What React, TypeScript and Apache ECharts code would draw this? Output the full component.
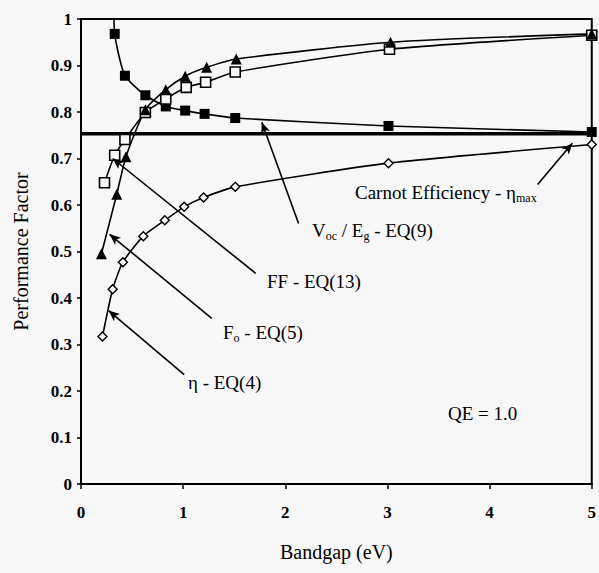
import React, { useEffect, useRef } from "react";
import * as echarts from "echarts";

// Voc / Eg  (filled squares)
const bandgapVoc = [0.32, 0.33, 0.43, 0.63, 0.83, 1.02, 1.21, 1.51, 3.01, 5.0];
const vocEg = [1.06, 0.968, 0.878, 0.836, 0.812, 0.803, 0.796, 0.787, 0.77, 0.757];
// FF (open squares)
const bandgapFF = [0.23, 0.33, 0.43, 0.63, 0.83, 1.03, 1.22, 1.51, 3.02, 5.0];
const fillFactor = [0.648, 0.707, 0.741, 0.799, 0.828, 0.853, 0.864, 0.886, 0.935, 0.965];
// Fo (filled triangles)
const bandgapFo = [0.2, 0.35, 0.44, 0.63, 0.83, 1.02, 1.23, 1.52, 3.03, 5.0];
const foValues = [0.495, 0.623, 0.704, 0.805, 0.848, 0.877, 0.896, 0.914, 0.95, 0.968];
// eta (open diamonds)
const bandgapEta = [0.21, 0.31, 0.41, 0.61, 0.82, 1.01, 1.2, 1.51, 3.01, 5.0];
const etaValues = [0.317, 0.419, 0.477, 0.533, 0.567, 0.596, 0.616, 0.639, 0.69, 0.73];
// Carnot efficiency
const carnotX = [0, 5];
const carnotValue = 0.753;

// annotation arrows: [fromX, fromY, toX, toY] in data units
const arrowCarnot = [4.47, 0.644, 4.81, 0.733];
const arrowVoc = [2.13, 0.56, 1.77, 0.778];
const arrowFF = [1.71, 0.453, 0.31, 0.7];
const arrowFo = [1.28, 0.356, 0.28, 0.537];
const arrowEta = [1.01, 0.235, 0.27, 0.373];

const FONT = "'Liberation Serif', 'DejaVu Serif', serif";
const BG = "#f7f7f7";

function zip(xs: number[], ys: number[]) {
  return xs.map((x, i) => [x, ys[i]]);
}

function arrow(a: number[]) {
  return [{ coord: [a[0], a[1]] }, { coord: [a[2], a[3]] }];
}

export default function App() {
  const ref = useRef<HTMLDivElement>(null);
  useEffect(() => {
    document.body.style.background = BG;
    const chart = echarts.init(ref.current!, null, { renderer: "svg" });
    const lineBase = {
      type: "line" as const,
      smooth: 0.2,
      lineStyle: { color: "#000", width: 1.6 },
      z: 3,
    };
    const sub = { fontFamily: FONT, fontSize: 12, padding: [11, 0, 0, 0], fill: "#000" };
    const textStyle = (text: string) => ({
      text,
      fontFamily: FONT,
      fontSize: 19,
      fill: "#000",
      verticalAlign: "middle",
      rich: { sub },
    });
    chart.setOption({
      animation: false,
      backgroundColor: BG,
      textStyle: { fontFamily: FONT },
      grid: {
        left: 81,
        right: 3,
        top: 19,
        bottom: 89,
        show: true,
        borderColor: "#000",
        borderWidth: 2,
        containLabel: false,
      },
      xAxis: {
        type: "value",
        min: 0,
        max: 5,
        interval: 1,
        name: "Bandgap (eV)",
        nameLocation: "middle",
        nameGap: 58,
        nameTextStyle: { fontFamily: FONT, fontSize: 20, color: "#000" },
        axisLine: { show: true, onZero: false, lineStyle: { color: "#000", width: 2 } },
        axisTick: { show: true, length: 5, lineStyle: { color: "#000", width: 1.5 } },
        axisLabel: { fontFamily: FONT, fontSize: 17, fontWeight: "bold", color: "#000", margin: 20 },
        splitLine: { show: false },
      },
      yAxis: {
        type: "value",
        min: 0,
        max: 1,
        interval: 0.1,
        name: "Performance Factor",
        nameLocation: "middle",
        nameGap: 50,
        nameTextStyle: { fontFamily: FONT, fontSize: 20, color: "#000" },
        axisLine: { show: true, onZero: false, lineStyle: { color: "#000", width: 2 } },
        axisTick: { show: true, length: 4, lineStyle: { color: "#000", width: 1.5 } },
        axisLabel: { fontFamily: FONT, fontSize: 17, fontWeight: "bold", color: "#000", margin: 9 },
        splitLine: { show: false },
      },
      series: [
        {
          ...lineBase,
          name: "Carnot",
          data: zip(carnotX, carnotX.map(() => carnotValue)),
          symbol: "none",
          smooth: false,
          lineStyle: { color: "#000", width: 3.5 },
          markLine: {
            silent: true,
            symbol: ["none", "arrow"],
            symbolSize: [7, 11],
            lineStyle: { color: "#000", width: 1.6, type: "solid" },
            label: { show: false },
            data: [arrow(arrowCarnot), arrow(arrowVoc), arrow(arrowFF), arrow(arrowFo), arrow(arrowEta)],
          },
        },
        {
          ...lineBase,
          name: "Voc/Eg",
          data: zip(bandgapVoc, vocEg),
          symbol: "rect",
          symbolSize: 10,
          itemStyle: { color: "#000" },
        },
        {
          ...lineBase,
          name: "FF",
          data: zip(bandgapFF, fillFactor),
          symbol: "rect",
          symbolSize: 10,
          itemStyle: { color: BG, borderColor: "#000", borderWidth: 1.6 },
        },
        {
          ...lineBase,
          name: "Fo",
          data: zip(bandgapFo, foValues),
          symbol: "triangle",
          symbolSize: 11,
          itemStyle: { color: "#000" },
        },
        {
          ...lineBase,
          name: "eta",
          data: zip(bandgapEta, etaValues),
          symbol: "diamond",
          symbolSize: 9,
          itemStyle: { color: BG, borderColor: "#000", borderWidth: 1.4 },
        },
      ],
      graphic: [
        { type: "text", x: 355, y: 192, style: textStyle("Carnot Efficiency - η{sub|max}") },
        { type: "text", x: 312, y: 230, style: textStyle("V{sub|oc} / E{sub|g} - EQ(9)") },
        { type: "text", x: 267, y: 281, style: textStyle("FF - EQ(13)") },
        { type: "text", x: 223, y: 332, style: textStyle("F{sub|o} - EQ(5)") },
        { type: "text", x: 188, y: 382, style: textStyle("η - EQ(4)") },
        { type: "text", x: 448, y: 413, style: textStyle("QE = 1.0") },
      ],
    });
    return () => chart.dispose();
  }, []);
  return (
    <div
      ref={ref}
      style={{ position: "fixed", left: 0, top: 0, width: 599, height: 573, background: BG }}
    />
  );
}
